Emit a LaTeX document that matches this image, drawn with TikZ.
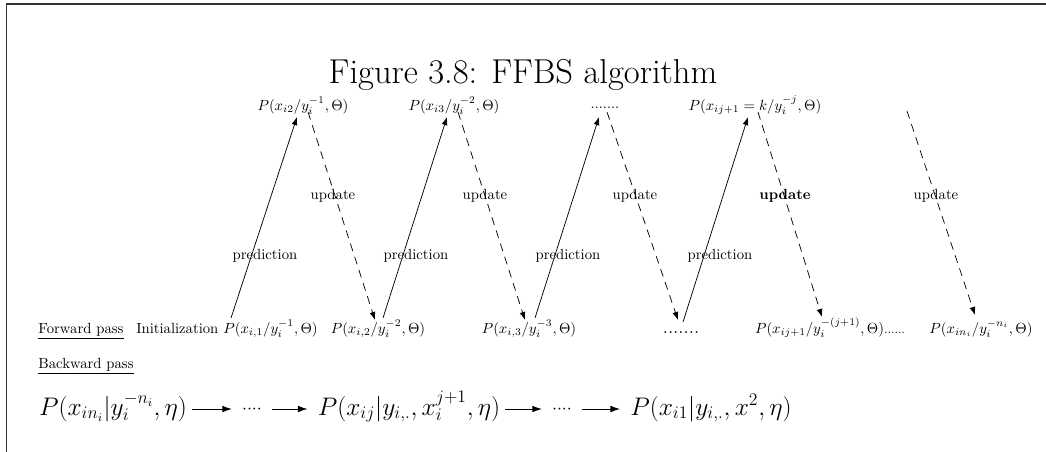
\documentclass[tikz,border=0pt]{standalone}
\usetikzlibrary{arrows.meta,calc}
\begin{document}
\begin{tikzpicture}[x=0.68pt,y=-0.68pt,
  lbl/.style={inner sep=0pt,font=\fontsize{10}{12}\selectfont},
  big/.style={inner sep=0pt,font=\fontsize{16.5}{20}\selectfont},
  bdot/.style={inner sep=0pt,font=\fontsize{12}{14}\selectfont},
  pred/.style={-{Latex[length=5.5pt,width=4pt]},line width=0.5pt},
  upd/.style={-{Latex[length=5.5pt,width=4pt]},line width=0.5pt,dash pattern=on 5.4pt off 4pt},
  bar/.style={-{Latex[length=6.5pt,width=4.5pt]},line width=0.6pt}]
\useasboundingbox (0,0) rectangle (1046,452);
\draw[line width=1.3pt,black!80] (6.5,452) -- (6.5,4) -- (1046,4);
\node[inner sep=0pt,anchor=base,font=\fontsize{23.5}{28}\selectfont] (title) at (523,83) {Figure 3.8: FFBS algorithm};
% top row
\node[lbl,anchor=base] (t2) at (303,110) {$P(x_{i2}/y_i^{-1},\Theta)$};
\node[lbl,anchor=base] (t3) at (454,110) {$P(x_{i3}/y_i^{-2},\Theta)$};
\node[lbl,anchor=base] (tdots) at (605,108) {.......};
\node[lbl,anchor=base] (tj) at (755,110) {$P(x_{ij+1}=k/y_i^{-j},\Theta)$};
\coordinate (u5s) at (907,111);
% forward row
\node[lbl,anchor=base] (fp) at (81,333) {\underline{Forward pass}};
\node[lbl,anchor=base] (b1) at (227,333) {Initialization $P(x_{i,1}/y_i^{-1},\Theta)$};
\node[lbl,anchor=base] (b2) at (378,333) {$P(x_{i,2}/y_i^{-2},\Theta)$};
\node[lbl,anchor=base] (b3) at (529,333) {$P(x_{i,3}/y_i^{-3},\Theta)$};
\node[inner sep=0pt,anchor=base,font=\fontsize{13}{15}\selectfont] (bdots) at (681,333) {.......};
\node[lbl,anchor=base] (bj) at (830,333) {$P(x_{ij+1}/y_i^{-(j+1)},\Theta)${\fontsize{8}{10}\selectfont......}};
\node[lbl,anchor=base] (bn) at (981,333) {$P(x_{in_i}/y_i^{-n_i},\Theta)$};
% labels
\foreach \x/\n in {333/1,485/2,635/3,936/5}
  \node[lbl] (ul\n) at (\x,196) {update};
\node[lbl] (ul4) at (785,196) {\textbf{update}};
\foreach \x/\n in {265/1,416/2,568/3,720/4}
  \node[lbl] (pl\n) at (\x,256) {prediction};
% arrows
\draw[pred] ($(b1.base)+(4,-15)$) -- ($(t2.base)+(-6,7)$);
\draw[upd] ($(t2.base)+(5,2)$) -- ($(b2.base)+(-3,-13)$);
\draw[pred] ($(b2.base)+(5,-15)$) -- ($(t3.base)+(-7,7)$);
\draw[upd] ($(t3.base)+(4,2)$) -- ($(b3.base)+(-4,-13)$);
\draw[pred] ($(b3.base)+(6,-15)$) -- ($(tdots.base)+(-6,9)$);
\draw[upd] ($(tdots.base)+(2,4)$) -- ($(bdots.base)+(-3,-13)$);
\draw[pred] ($(bdots.base)+(2,-11)$) -- ($(tj.base)+(-7,7)$);
\draw[upd] ($(tj.base)+(3,2)$) -- ($(bj.base)+(-8,-16)$);
\draw[upd] (u5s) -- ($(bn.base)+(-6,-18)$);
% backward
\node[lbl,anchor=base] (bp) at (86,368) {\underline{Backward pass}};
\node[big,anchor=base] (B1) at (113,415) {$P(x_{in_i}|y_i^{-n_i},\eta)$};
\node[bdot,anchor=base] (D1) at (252,413.4) {${\cdot}{\cdot}{\cdot}{\cdot}$};
\node[big,anchor=base] (B2) at (409,415) {$P(x_{ij}|y_{i,.},x_i^{j+1},\eta)$};
\node[bdot,anchor=base] (D2) at (562,413.4) {${\cdot}{\cdot}{\cdot}{\cdot}$};
\node[big,anchor=base] (B3) at (711,415) {$P(x_{i1}|y_{i,.},x^2,\eta)$};
\draw[bar] ($(B1.base east)+(5,-6)$) -- ($(D1.base west)+(-10,-4.4)$);
\draw[bar] ($(D1.base east)+(10,-4.4)$) -- ($(B2.base west)+(-10,-6)$);
\draw[bar] ($(B2.base east)+(5,-6)$) -- ($(D2.base west)+(-10,-4.4)$);
\draw[bar] ($(D2.base east)+(10,-4.4)$) -- ($(B3.base west)+(-10,-6)$);
\end{tikzpicture}
\end{document}
